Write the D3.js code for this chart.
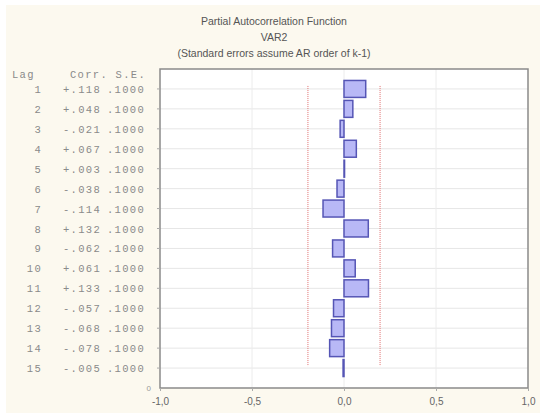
<!DOCTYPE html>
<html>
<head>
<meta charset="utf-8">
<script src="https://cdn.jsdelivr.net/npm/d3@7"></script>
<style>
  body { margin: 0; background: #ffffff; }
  svg { display: block; }
</style>
</head>
<body>
<div id="chart"></div>
<script>
// valeurs
var lags = [1, 2, 3, 4, 5, 6, 7, 8, 9, 10, 11, 12, 13, 14, 15];
var corr = [0.118, 0.048, -0.021, 0.067, 0.003, -0.038, -0.114, 0.132, -0.062, 0.061, 0.133, -0.057, -0.068, -0.078, -0.005];
var stdErr = [0.1, 0.1, 0.1, 0.1, 0.1, 0.1, 0.1, 0.1, 0.1, 0.1, 0.1, 0.1, 0.1, 0.1, 0.1];
var xTicks = [-1, -0.5, 0, 0.5, 1];
var titles = ["Partial Autocorrelation Function", "VAR2", "(Standard errors assume AR order of k-1)"];

var W = 540, H = 413;
var svg = d3.select("#chart").append("svg").attr("width", W).attr("height", H);

svg.append("rect").attr("x", 6).attr("y", 5).attr("width", W - 6).attr("height", H - 5)
  .attr("fill", "#fcf9ef");

var x = d3.scaleLinear().domain([-1, 1]).range([160, 528]);
var y = d3.scaleLinear().domain([0, 16]).range([69, 388]);

// titre
svg.selectAll(".title").data(titles).enter().append("text")
  .attr("class", "title")
  .attr("x", 274)
  .attr("y", function(d, i) { return 25 + i * 16; })
  .attr("text-anchor", "middle")
  .style("font-family", "Liberation Sans, Arial, sans-serif")
  .style("font-size", "10.5px")
  .style("fill", "#555")
  .text(function(d) { return d; });

// fond du graphique
svg.append("rect").attr("x", x(-1)).attr("y", y(0))
  .attr("width", x(1) - x(-1)).attr("height", y(16) - y(0))
  .attr("fill", "#ffffff");

// grille
svg.selectAll(".hgrid").data(lags).enter().append("line")
  .attr("x1", x(-1)).attr("x2", x(1))
  .attr("y1", function(d) { return y(d); }).attr("y2", function(d) { return y(d); })
  .attr("stroke", "#e6e6e6").attr("stroke-width", 1);
svg.selectAll(".vgrid").data([-0.5, 0, 0.5]).enter().append("line")
  .attr("x1", function(d) { return x(d); }).attr("x2", function(d) { return x(d); })
  .attr("y1", y(0)).attr("y2", y(16))
  .attr("stroke", "#ececec").attr("stroke-width", 1);

// limites de confiance
[-1, 1].forEach(function(s) {
  svg.append("line")
    .attr("x1", x(s * 1.96 * stdErr[0])).attr("x2", x(s * 1.96 * stdErr[0]))
    .attr("y1", y(0.85)).attr("y2", y(14.9))
    .attr("stroke", "#e07070").attr("stroke-width", 1)
    .attr("stroke-dasharray", "1,1");
});

// barres
var bh = (y(1) - y(0)) * 0.85;
svg.selectAll(".bar").data(lags).enter().append("rect")
  .attr("class", "bar")
  .attr("x", function(d, i) { return x(Math.min(0, corr[i])); })
  .attr("y", function(d) { return y(d) - bh / 2; })
  .attr("width", function(d, i) { return Math.abs(x(corr[i]) - x(0)); })
  .attr("height", bh)
  .attr("fill", "#b8b8f6")
  .attr("stroke", "#5555b5")
  .attr("stroke-width", 1.5);

// cadre
svg.append("rect").attr("x", x(-1)).attr("y", y(0))
  .attr("width", x(1) - x(-1)).attr("height", y(16) - y(0))
  .attr("fill", "none").attr("stroke", "#8a8a8a").attr("stroke-width", 1.5);

// axe x
var xAxis = d3.axisBottom(x).tickValues(xTicks).tickSize(3)
  .tickFormat(function(d) { return d3.format(".1f")(d).replace(".", ",").replace("−", "-"); });
var gx = svg.append("g").attr("transform", "translate(0," + y(16) + ")").call(xAxis);
gx.select(".domain").remove();
gx.selectAll("line").attr("stroke", "#aaa");
gx.selectAll("text").attr("dy", "1.1em")
  .style("font-family", "Liberation Sans, Arial, sans-serif")
  .style("font-size", "10px").style("fill", "#666");

// ticks y
svg.selectAll(".ytick").data(lags).enter().append("line")
  .attr("x1", x(-1) - 3).attr("x2", x(-1))
  .attr("y1", function(d) { return y(d); }).attr("y2", function(d) { return y(d); })
  .attr("stroke", "#aaa");
svg.append("text").attr("x", 151).attr("y", y(16) + 3)
  .attr("text-anchor", "end")
  .style("font-family", "Liberation Sans, Arial, sans-serif")
  .style("font-size", "8px").style("fill", "#999").text("0");

// tableau
var mono = "Liberation Mono, DejaVu Sans Mono, monospace";
var tbl = svg.append("g")
  .style("font-family", mono).style("font-size", "10.5px")
  .style("letter-spacing", "1.3px").style("fill", "#8a8a8a");
tbl.append("text").attr("x", 12).attr("y", y(0) + 9).text("Lag");
tbl.append("text").attr("x", 70).attr("y", y(0) + 9).text("Corr. S.E.");
tbl.selectAll(".lag").data(lags).enter().append("text")
  .attr("x", 42).attr("y", function(d) { return y(d) + 4; })
  .attr("text-anchor", "end").text(function(d) { return d; });
tbl.selectAll(".corr").data(lags).enter().append("text")
  .attr("x", 63).attr("y", function(d) { return y(d) + 4; })
  .text(function(d, i) {
    var v = corr[i];
    return (v >= 0 ? "+" : "-") + Math.abs(v).toFixed(3).slice(1);
  });
tbl.selectAll(".se").data(lags).enter().append("text")
  .attr("x", 107).attr("y", function(d) { return y(d) + 4; })
  .text(function(d, i) { return stdErr[i].toFixed(4).slice(1); });
</script>
</body>
</html>
